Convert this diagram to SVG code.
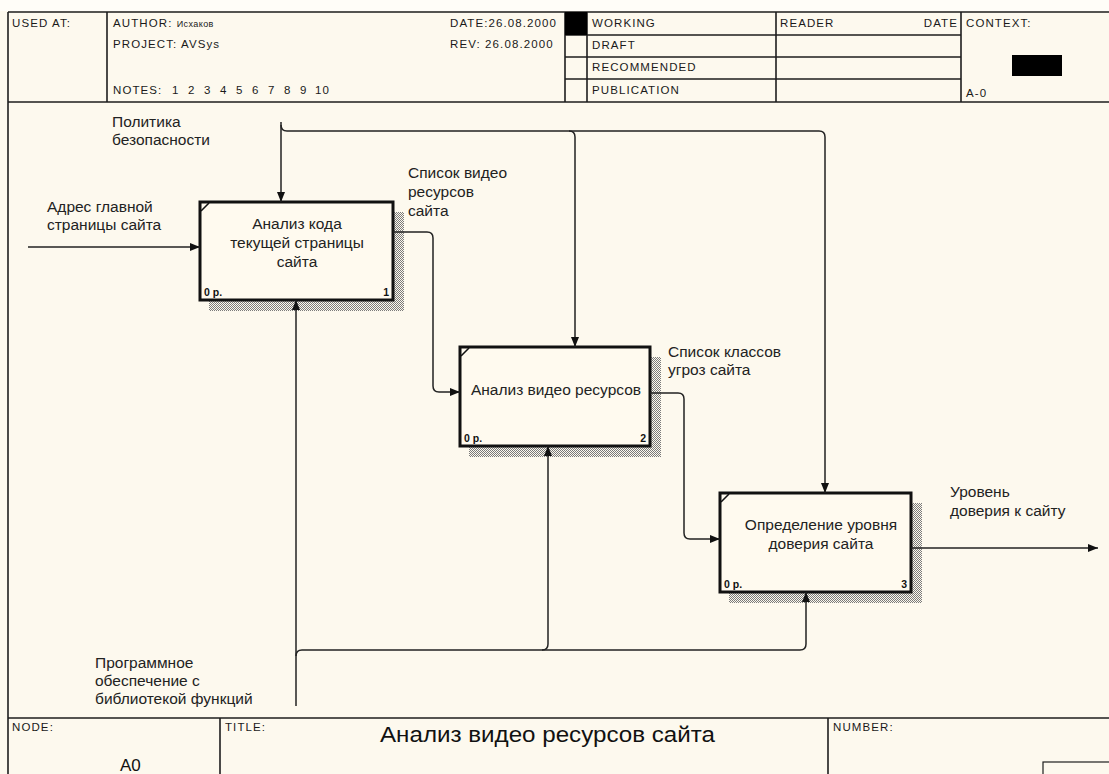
<svg xmlns="http://www.w3.org/2000/svg" width="1109" height="774" viewBox="0 0 1109 774">
  <defs>
    <style>
      .frame { fill: none; stroke: #1e1e1e; stroke-width: 1.6; }
      .hd { font-family: "Liberation Sans", Arial, sans-serif; font-size: 11.5px; fill: #1a1a1a; letter-spacing: 1.1px; }
      .lbl { font-family: "Liberation Sans", Arial, sans-serif; font-size: 15.5px; fill: #222; }
      .box { fill: #fffaef; stroke: #111; stroke-width: 3; }
      .shadow { fill: url(#hatch); }
      .corner { fill: none; stroke: #111; stroke-width: 1.6; }
      .small { font-family: "Liberation Sans", Arial, sans-serif; font-size: 10.5px; fill: #111; font-weight: bold; }
      .conn { fill: none; stroke: #222; stroke-width: 1.5; }
    </style>
    <pattern id="hatch" patternUnits="userSpaceOnUse" width="2" height="2">
      <rect width="2" height="2" fill="#fdf9ee"/>
      <rect width="1" height="1" fill="#7a7a7a"/>
      <rect x="1" y="1" width="1" height="1" fill="#7a7a7a"/>
    </pattern>
    <marker id="arr" viewBox="0 0 10 8" refX="10" refY="4" markerWidth="10" markerHeight="8" markerUnits="userSpaceOnUse" orient="auto">
      <path d="M0,0 L10,4 L0,8 Z" fill="#111"/>
    </marker>
  </defs>

  <!-- sheet -->
  <rect width="1109" height="774" fill="#fdf9ee"/>
  <rect width="1109" height="11" fill="#fffdf8"/>

  <!-- header frame -->
  <g id="header">
    <path class="frame" d="M8,12 H1109 M8,12 V774 M8,102 H1109 M107,12 V102 M565,12 V102 M587,12 V102 M776,12 V102 M961,12 V102 M565,35 H961 M565,57 H961 M565,79 H961"/>
    <rect x="565" y="12" width="22" height="23" fill="#000"/>
    <rect x="1012" y="55" width="50" height="21" fill="#000"/>
    <text class="hd" x="12" y="27">USED AT:</text>
    <text class="hd" x="113" y="27">AUTHOR: <tspan font-size="9" letter-spacing="0.4">Исхаков</tspan></text>
    <text class="hd" x="113" y="48">PROJECT: AVSys</text>
    <text class="hd" x="113" y="94">NOTES:</text>
    <text class="hd" y="94"><tspan x="172">1</tspan><tspan x="188">2</tspan><tspan x="204">3</tspan><tspan x="220">4</tspan><tspan x="236">5</tspan><tspan x="252">6</tspan><tspan x="268">7</tspan><tspan x="284">8</tspan><tspan x="300">9</tspan><tspan x="315">10</tspan></text>
    <text class="hd" x="450" y="27">DATE:26.08.2000</text>
    <text class="hd" x="450" y="48">REV:  26.08.2000</text>
    <text class="hd" x="592" y="27">WORKING</text>
    <text class="hd" x="592" y="49">DRAFT</text>
    <text class="hd" x="592" y="71">RECOMMENDED</text>
    <text class="hd" x="592" y="94">PUBLICATION</text>
    <text class="hd" x="780" y="27">READER</text>
    <text class="hd" x="958" y="27" text-anchor="end">DATE</text>
    <text class="hd" x="966" y="27">CONTEXT:</text>
    <text class="hd" x="966" y="97">A-0</text>
  </g>

  <!-- footer frame -->
  <g id="footer">
    <path class="frame" d="M8,718 H1109 M220,718 V774 M828,718 V774"/>
    <rect x="1043" y="762" width="70" height="14" fill="none" stroke="#1e1e1e" stroke-width="1.2"/>
    <text class="hd" x="12" y="731">NODE:</text>
    <text x="120" y="771" font-family="Liberation Sans, Arial, sans-serif" font-size="17" fill="#111">A0</text>
    <text class="hd" x="225" y="731">TITLE:</text>
    <text x="380" y="742" textLength="335" lengthAdjust="spacingAndGlyphs" font-family="Liberation Sans, Arial, sans-serif" font-size="22" fill="#111">Анализ видео ресурсов сайта</text>
    <text class="hd" x="833" y="731">NUMBER:</text>
  </g>

  <!-- connector labels -->
  <g id="labels">
    <text class="lbl" x="112" y="127">Политика</text>
    <text class="lbl" x="112" y="145">безопасности</text>
    <text class="lbl" x="47" y="212">Адрес главной</text>
    <text class="lbl" x="47" y="230">страницы сайта</text>
    <text class="lbl" x="408" y="178">Список видео</text>
    <text class="lbl" x="408" y="197">ресурсов</text>
    <text class="lbl" x="408" y="216">сайта</text>
    <text class="lbl" x="668" y="357">Список классов</text>
    <text class="lbl" x="668" y="375">угроз сайта</text>
    <text class="lbl" x="950" y="497">Уровень</text>
    <text class="lbl" x="950" y="516">доверия к сайту</text>
    <text class="lbl" x="95" y="668">Программное</text>
    <text class="lbl" x="95" y="686">обеспечение с</text>
    <text class="lbl" x="95" y="704">библиотекой функций</text>
  </g>

  <!-- activity 1 -->
  <g id="node1">
    <rect class="shadow" x="393" y="212" width="11" height="99"/>
    <rect class="shadow" x="209" y="300" width="195" height="11"/>
    <rect class="box" x="200" y="202" width="193" height="98"/>
    <path class="corner" d="M201,211 L209,203"/>
    <text class="lbl" x="297" y="229" text-anchor="middle">Анализ кода</text>
    <text class="lbl" x="297" y="248" text-anchor="middle">текущей страницы</text>
    <text class="lbl" x="297" y="267" text-anchor="middle">сайта</text>
    <text class="small" x="204" y="296">0 р.</text>
    <text class="small" x="389" y="296" text-anchor="end">1</text>
  </g>

  <!-- activity 2 -->
  <g id="node2">
    <rect class="shadow" x="650" y="357" width="11" height="100"/>
    <rect class="shadow" x="469" y="446" width="192" height="11"/>
    <rect class="box" x="460" y="347" width="190" height="99"/>
    <path class="corner" d="M461,356 L469,348"/>
    <text class="lbl" x="556" y="395" text-anchor="middle">Анализ видео ресурсов</text>
    <text class="small" x="464" y="442">0 р.</text>
    <text class="small" x="646" y="442" text-anchor="end">2</text>
  </g>

  <!-- activity 3 -->
  <g id="node3">
    <rect class="shadow" x="911" y="503" width="11" height="100"/>
    <rect class="shadow" x="729" y="592" width="193" height="11"/>
    <rect class="box" x="720" y="493" width="191" height="99"/>
    <path class="corner" d="M721,502 L729,494"/>
    <text class="lbl" x="821" y="530" text-anchor="middle">Определение уровня</text>
    <text class="lbl" x="821" y="549" text-anchor="middle">доверия сайта</text>
    <text class="small" x="724" y="588">0 р.</text>
    <text class="small" x="907" y="588" text-anchor="end">3</text>
  </g>

  <!-- connectors (drawn last so arrowheads sit on top of the shadows) -->
  <g id="connectors">
    <!-- control: security policy -->
    <path class="conn" d="M281,122 V202" marker-end="url(#arr)"/>
    <path class="conn" d="M281,125 q0,6 6,6 H819 q6,0 6,6 V493" marker-end="url(#arr)"/>
    <path class="conn" d="M569,131 q6,0 6,6 V347" marker-end="url(#arr)"/>
    <!-- input: main page address -->
    <path class="conn" d="M28,247 H200" marker-end="url(#arr)"/>
    <!-- 1 -> 2 -->
    <path class="conn" d="M393,232 H427 q6,0 6,6 V386 q0,6 6,6 H460" marker-end="url(#arr)"/>
    <!-- 2 -> 3 -->
    <path class="conn" d="M650,393 H678 q6,0 6,6 V533 q0,6 6,6 H720" marker-end="url(#arr)"/>
    <!-- output: trust level -->
    <path class="conn" d="M911,548 H1098" marker-end="url(#arr)"/>
    <!-- mechanism: software with function library -->
    <path class="conn" d="M296,706 V300" marker-end="url(#arr)"/>
    <path class="conn" d="M296,656 q0,-6 6,-6 H800 q6,0 6,-6 V592" marker-end="url(#arr)"/>
    <path class="conn" d="M542,650 q6,0 6,-6 V446" marker-end="url(#arr)"/>
  </g>
</svg>
